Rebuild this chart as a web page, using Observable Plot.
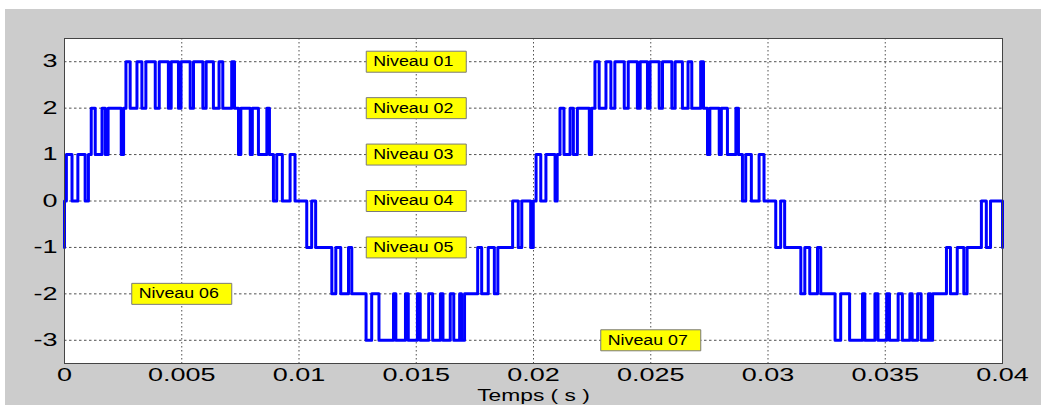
<!DOCTYPE html>
<html>
<head>
<meta charset="utf-8">
<script src="https://cdn.jsdelivr.net/npm/d3@7"></script>
<script src="https://cdn.jsdelivr.net/npm/@observablehq/plot@0.6"></script>
<style>
  html, body { margin: 0; padding: 0; background: #ffffff; width: 1041px; height: 405px; overflow: hidden; }
  #wrap { position: absolute; left: 5px; top: 9px; width: 1036px; height: 396px; background: #cccccc; }
</style>
</head>
<body>
<div id="wrap"></div>
<script>
// switching instants (ms) and the level held from each instant on
const timeMs = [
  0, 0, 0.08, 0.32, 0.57, 0.88, 1.02, 1.14, 1.31, 1.60, 1.74, 1.86, 2.42, 2.52,
  2.62, 2.80, 3.09, 3.30, 3.47, 3.87, 4.04, 4.43, 4.55, 4.86, 4.97, 5.36, 5.50, 5.90, 6.04, 6.35, 6.59, 6.75, 7.13, 7.25,
  7.42, 7.52, 7.92, 8.01, 8.27, 8.63, 8.74, 8.91, 9.05, 9.29, 9.62, 9.83,
  10.33, 10.54, 10.71, 11.40, 11.57, 11.78, 12.11, 12.25,
  12.86, 13.10, 13.41, 14.03, 14.13, 14.54, 14.66, 15.05, 15.17, 15.53, 15.70, 16.03, 16.14, 16.45, 16.60, 16.85, 16.93, 17.06,
  17.62, 17.79, 18.07, 18.33, 18.48, 19.11, 19.35, 19.50, 19.88,
  19.99, 20.11, 20.31, 20.53, 20.92, 21.01, 21.13, 21.30, 21.56, 21.70, 21.87, 22.38, 22.48,
  22.62, 22.80, 23.09, 23.30, 23.47, 23.87, 24.04, 24.43, 24.55, 24.86, 24.97, 25.36, 25.50, 25.90, 26.04, 26.35, 26.59, 26.75, 27.13, 27.25,
  27.42, 27.52, 27.92, 28.01, 28.27, 28.63, 28.74, 28.91, 29.05, 29.29, 29.62, 29.83,
  30.33, 30.54, 30.71, 31.40, 31.57, 31.78, 32.11, 32.25,
  32.86, 33.10, 33.48, 34.03, 34.13, 34.56, 34.69, 35.06, 35.18, 35.55, 35.73, 36.05, 36.15, 36.38, 36.53, 36.84, 36.93, 37.02,
  37.61, 37.78, 38.07, 38.35, 38.49, 39.10, 39.31, 39.49, 40.00
];
const level = [
  -1, 0, 1, 0, 1, 0, 1, 2, 1, 2, 1, 2, 1, 2,
  3, 2, 3, 2, 3, 2, 3, 2, 3, 2, 3, 2, 3, 2, 3, 2, 3, 2, 3, 2,
  1, 2, 1, 2, 1, 2, 1, 0, 1, 0, 1, 0,
  -1, 0, -1, -2, -1, -2, -1, -2,
  -3, -2, -3, -2, -3, -2, -3, -2, -3, -2, -3, -2, -3, -2, -3, -2, -3, -2,
  -1, -2, -1, -2, -1, 0, -1, 0, -1,
  0, 1, 0, 1, 0, 1, 2, 1, 2, 1, 2, 1, 2,
  3, 2, 3, 2, 3, 2, 3, 2, 3, 2, 3, 2, 3, 2, 3, 2, 3, 2, 3, 2,
  1, 2, 1, 2, 1, 2, 1, 0, 1, 0, 1, 0,
  -1, 0, -1, -2, -1, -2, -1, -2,
  -3, -2, -3, -2, -3, -2, -3, -2, -3, -2, -3, -2, -3, -2, -3, -2, -3, -2,
  -1, -2, -1, -2, -1, 0, -1, 0, -1
];

const xTicks = [0, 0.005, 0.01, 0.015, 0.02, 0.025, 0.03, 0.035, 0.04];
const yTicks = [-3, -2, -1, 0, 1, 2, 3];

const labelText = ["Niveau 01", "Niveau 02", "Niveau 03", "Niveau 04", "Niveau 05", "Niveau 06", "Niveau 07"];
const labelTime = [0.015, 0.015, 0.015, 0.015, 0.015, 0.005, 0.025];
const labelLevel = [3, 2, 1, 0, -1, -2, -3];

const axisLabel = "Temps ( s )";

const rows = timeMs.map((t, i) => ({t: t / 1000, v: level[i]}));
const labelRows = labelText.map((s, i) => ({label: s, t: labelTime[i], v: labelLevel[i]}));

// yellow label box drawn as a custom dot symbol
const boxSymbol = {
  draw(ctx) {
    ctx.moveTo(-50, -10.5);
    ctx.lineTo(50, -10.5);
    ctx.lineTo(50, 10.5);
    ctx.lineTo(-50, 10.5);
    ctx.closePath();
  }
};

const svg = Plot.plot({
  width: 1036,
  height: 396,
  marginLeft: 59,
  marginRight: 39,
  marginTop: 29,
  marginBottom: 42,
  style: {background: "#cccccc", fontFamily: "'Liberation Sans', Arial, sans-serif", fontSize: "18px", color: "#000"},
  x: {domain: [0, 0.04]},
  y: {domain: [-3.5, 3.5]},
  marks: [
    Plot.frame({fill: "#ffffff", stroke: "none"}),
    Plot.gridX(xTicks, {stroke: "#333", strokeOpacity: 0.85, strokeDasharray: "1.5,2.5"}),
    Plot.gridY(yTicks, {stroke: "#333", strokeOpacity: 0.85, strokeDasharray: "2.5,2.5"}),
    Plot.line(rows, {x: "t", y: "v", curve: "step-after", stroke: "#0000ff", strokeWidth: 3}),
    Plot.frame({stroke: "#444", strokeWidth: 1}),
    Plot.dot(labelRows, {x: "t", y: "v", symbol: boxSymbol, r: 5, fill: "#ffff00", stroke: "#7a7a7a", strokeWidth: 1}),
    Plot.text(labelRows, {x: "t", y: "v", text: "label", fontSize: 14, dx: -3, fill: "#000"}),
    Plot.axisX(xTicks, {tickSize: 0, tickPadding: 5, tickFormat: d => String(d), label: null, fill: "#000"}),
    Plot.axisY(yTicks, {tickSize: 0, tickPadding: 7, tickFormat: d => String(d), label: null, fill: "#000"}),
    Plot.text([axisLabel], {frameAnchor: "bottom", lineAnchor: "middle", dy: 32.5, text: d => d, fontSize: 17, fill: "#000"})
  ]
});

document.getElementById("wrap").appendChild(svg);

// horizontally widen the glyphs to match the reference rendering
svg.querySelectorAll("text").forEach(t => {
  const s = t.textContent;
  let k = 1.5;
  if (s.startsWith("Niveau")) k = 1.27;
  else if (s === axisLabel) k = 1.34;
  const tr = t.getAttribute("transform");
  if (tr) {
    t.setAttribute("transform", tr + ` scale(${k},1)`);
  } else {
    const x = +t.getAttribute("x") || 0, y = +t.getAttribute("y") || 0;
    t.removeAttribute("x"); t.removeAttribute("y");
    t.setAttribute("transform", `translate(${x},${y}) scale(${k},1)`);
  }
});
</script>
</body>
</html>
